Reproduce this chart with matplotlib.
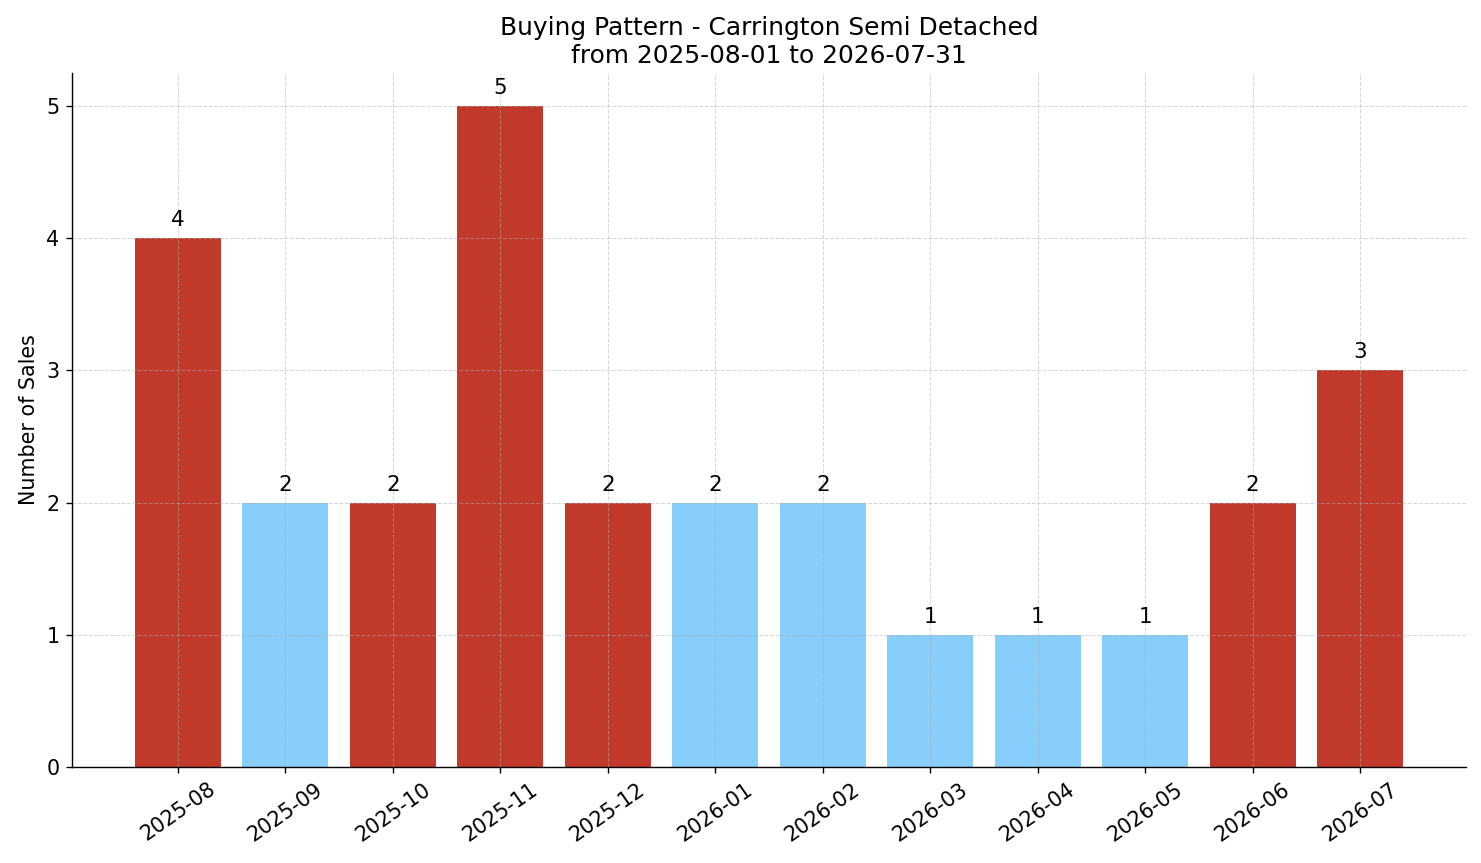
import matplotlib
matplotlib.use("Agg")
import matplotlib.pyplot as plt

months = ["2025-08", "2025-09", "2025-10", "2025-11", "2025-12", "2026-01",
          "2026-02", "2026-03", "2026-04", "2026-05", "2026-06", "2026-07"]
sales = [4, 2, 2, 5, 2, 2, 2, 1, 1, 1, 2, 3]
highlight = [True, False, True, True, True, False, False, False, False, False, True, True]

RED = "#c0392b"
BLUE = "#87cefa"

DPI = 1481 / 12
fig, ax = plt.subplots(figsize=(12, 863 / DPI), dpi=DPI)
colors = [RED if h else BLUE for h in highlight]
bars = ax.bar(months, sales, color=colors, width=0.8)

# value labels above each bar
for b, v in zip(bars, sales):
    ax.text(b.get_x() + b.get_width() / 2, v + 0.06, str(v),
            ha="center", va="bottom", fontsize=12.5)

ax.set_title("Buying Pattern - Carrington Semi Detached\nfrom 2025-08-01 to 2026-07-31",
             fontsize=14.5)
ax.set_ylabel("Number of Sales", fontsize=12)
ax.set_ylim(0, 5.25)
ax.set_yticks(range(0, 6))
ax.tick_params(axis="both", labelsize=12)
plt.setp(ax.get_xticklabels(), rotation=35, ha="center")
# grid drawn over bars, faint
ax.grid(True, linestyle="--", color="#b0b0b0", alpha=0.5, linewidth=0.6)
ax.spines["top"].set_visible(False)
ax.spines["right"].set_visible(False)

fig.subplots_adjust(left=71.5 / 1481, right=1466.5 / 1481, top=1 - 73 / 863, bottom=1 - 767 / 863)
fig.savefig("out.png", dpi=DPI, facecolor="white")
